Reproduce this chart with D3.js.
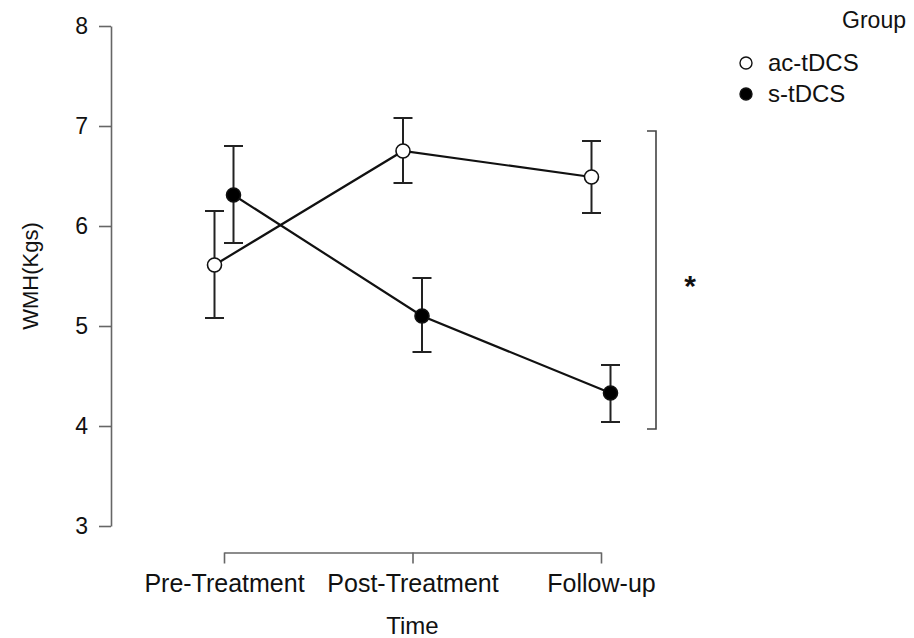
<!DOCTYPE html>
<html>
<head>
<meta charset="utf-8">
<script src="https://cdn.jsdelivr.net/npm/d3@7"></script>
<style>
  body { margin: 0; background: #fff; }
  svg { font-family: "Liberation Sans", Arial, sans-serif; }
</style>
</head>
<body>
<div id="chart"></div>
<script>
// time points and the two groups
var times = ["Pre-Treatment", "Post-Treatment", "Follow-up"];
var groups = ["ac-tDCS", "s-tDCS"];

// means and error bar limits
var acMean = [5.61, 6.75, 6.49];
var acLow  = [5.08, 6.43, 6.13];
var acHigh = [6.15, 7.08, 6.85];

var sMean = [6.31, 5.10, 4.33];
var sLow  = [5.83, 4.74, 4.04];
var sHigh = [6.80, 5.48, 4.61];

var yTicks = [3, 4, 5, 6, 7, 8];

// the bracket around follow-up difference
var sigRange = [3.97, 6.95];

var width = 914, height = 638;

var svg = d3.select("#chart").append("svg")
    .attr("width", width)
    .attr("height", height);

var x = d3.scalePoint().domain(times).range([224, 601]);
var y = d3.scaleLinear().domain([3, 8]).range([526, 26]);

//dodge each group a little
var dodge = {"ac-tDCS": -9.5, "s-tDCS": 9.5};

var series = [
  {name: "ac-tDCS", fill: "#fff", mean: acMean, low: acLow, high: acHigh},
  {name: "s-tDCS", fill: "#000", mean: sMean, low: sLow, high: sHigh}
];

///////////////////////// axes /////////////////////////

var yAxis = svg.append("g")
    .attr("transform", "translate(111,0)")
    .call(d3.axisLeft(y).tickValues(yTicks).tickFormat(d3.format("d"))
      .tickSize(12).tickSizeOuter(0).tickPadding(11));

var xAxis = svg.append("g")
    .attr("transform", "translate(0,552.5)")
    .call(d3.axisBottom(x).tickSize(11).tickSizeOuter(0).tickPadding(11));

[yAxis, xAxis].forEach(function(ax){
  ax.selectAll("path, line").attr("stroke", "#666").attr("stroke-width", 1.6);
  ax.selectAll("text").attr("fill", "#111").attr("font-size", null).style("font-size", "23px");
});
xAxis.selectAll("text").style("font-size", "25px");

svg.append("text")
    .attr("x", x("Post-Treatment"))
    .attr("y", 634)
    .attr("text-anchor", "middle")
    .style("font-size", "24px")
    .attr("fill", "#111")
    .text("Time");

svg.append("text")
    .attr("transform", "translate(38," + y(5.5) + ") rotate(-90)")
    .attr("text-anchor", "middle")
    .style("font-size", "22px")
    .attr("fill", "#111")
    .text("WMH(Kgs)");

///////////////////////// lines, error bars, points /////////////////////////

var line = d3.line();

series.forEach(function(s){
  var g = svg.append("g");
  var pts = times.map(function(t, i){ return [x(t) + dodge[s.name], y(s.mean[i])]; });

  g.append("path")
      .attr("d", line(pts))
      .attr("fill", "none")
      .attr("stroke", "#111")
      .attr("stroke-width", 2.2);

  times.forEach(function(t, i){
    var cx = x(t) + dodge[s.name];
    g.append("line")
        .attr("x1", cx).attr("x2", cx)
        .attr("y1", y(s.low[i])).attr("y2", y(s.high[i]))
        .attr("stroke", "#222").attr("stroke-width", 2);
    [s.low[i], s.high[i]].forEach(function(v){
      g.append("line")
          .attr("x1", cx - 9.5).attr("x2", cx + 9.5)
          .attr("y1", y(v)).attr("y2", y(v))
          .attr("stroke", "#222").attr("stroke-width", 2);
    });
  });

  g.selectAll("circle")
      .data(pts)
      .enter().append("circle")
      .attr("cx", function(d){ return d[0]; })
      .attr("cy", function(d){ return d[1]; })
      .attr("r", 7)
      .attr("fill", s.fill)
      .attr("stroke", "#111")
      .attr("stroke-width", 1.6);
});

///////////////////////// significance bracket /////////////////////////

svg.append("path")
    .attr("d", "M647," + y(sigRange[1]) + "H656V" + y(sigRange[0]) + "H647")
    .attr("fill", "none")
    .attr("stroke", "#444")
    .attr("stroke-width", 1.6);

svg.append("text")
    .attr("x", 690)
    .attr("y", 296)
    .attr("text-anchor", "middle")
    .style("font-size", "30px")
    .style("font-weight", "bold")
    .attr("fill", "#111")
    .text("*");

///////////////////////// legend /////////////////////////

svg.append("text")
    .attr("x", 906)
    .attr("y", 28)
    .attr("text-anchor", "end")
    .style("font-size", "23px")
    .attr("fill", "#111")
    .text("Group");

var leg = svg.selectAll(".leg")
    .data(series)
    .enter().append("g")
    .attr("class", "leg")
    .attr("transform", function(d, i){ return "translate(746," + (63 + i * 31) + ")"; });

leg.append("circle")
    .attr("r", 6)
    .attr("fill", function(d){ return d.fill; })
    .attr("stroke", "#111")
    .attr("stroke-width", 1.4);

leg.append("text")
    .attr("x", 22)
    .attr("dy", "0.35em")
    .style("font-size", "24px")
    .attr("fill", "#111")
    .text(function(d){ return d.name; });
</script>
</body>
</html>
